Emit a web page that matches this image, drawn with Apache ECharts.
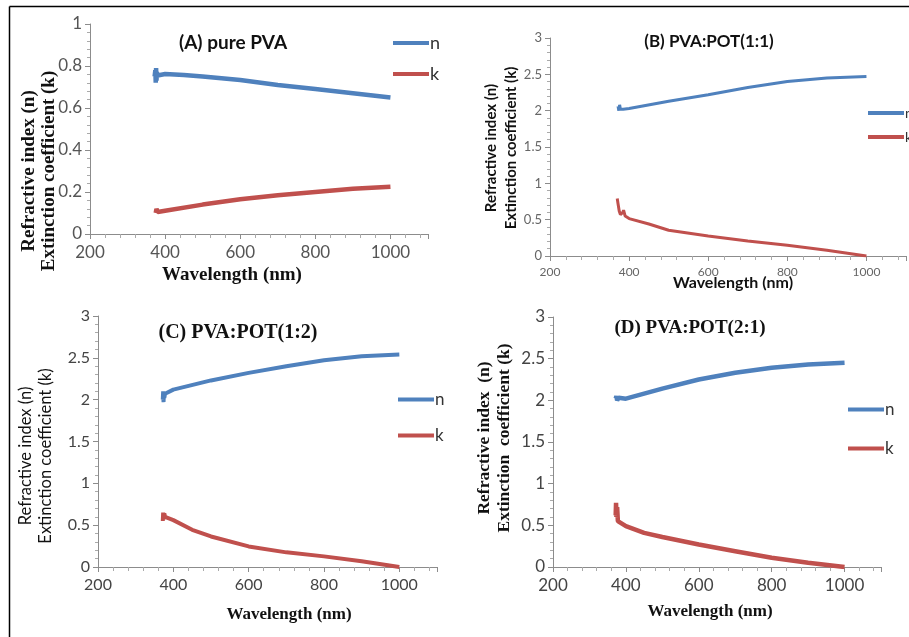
<!DOCTYPE html>
<html>
<head>
<meta charset="utf-8">
<script src="https://cdn.jsdelivr.net/npm/echarts@6/dist/echarts.min.js"></script>
<style>
  html, body { margin: 0; padding: 0; background: #fff; }
  #chart { width: 909px; height: 637px; }
</style>
</head>
<body>
<div id="chart"></div>
<script>
// 数据
var xTicks = [200, 400, 600, 800, 1000];

// (A) pure PVA
var aNx = [372, 374, 375, 376, 377, 378, 380, 385, 400, 450, 500, 600, 700, 800, 900, 1000];
var aN  = [0.75, 0.78, 0.72, 0.79, 0.73, 0.77, 0.755, 0.76, 0.762, 0.757, 0.75, 0.733, 0.71, 0.69, 0.67, 0.65];
var aKx = [375, 377, 380, 385, 400, 500, 600, 700, 800, 900, 1000];
var aK  = [0.10, 0.12, 0.105, 0.11, 0.111, 0.14, 0.165, 0.185, 0.20, 0.215, 0.225];

// (B) PVA:POT(1:1)
var bNx = [372, 374, 376, 378, 380, 385, 400, 500, 600, 700, 800, 900, 1000];
var bN  = [2.06, 2.0, 2.08, 2.02, 2.04, 2.02, 2.03, 2.13, 2.22, 2.32, 2.40, 2.45, 2.47];
var bKx = [370, 372, 375, 378, 380, 384, 386, 390, 400, 450, 500, 600, 700, 800, 900, 1000];
var bK  = [0.79, 0.72, 0.62, 0.57, 0.56, 0.60, 0.63, 0.55, 0.515, 0.44, 0.355, 0.276, 0.207, 0.147, 0.08, 0.0];

// (C) PVA:POT(1:2)
var cNx = [372, 373, 374, 375, 376, 378, 380, 400, 500, 600, 700, 800, 900, 1000];
var cN  = [2.0, 2.1, 1.97, 2.08, 2.02, 2.07, 2.09, 2.12, 2.23, 2.32, 2.40, 2.47, 2.52, 2.54];
var cKx = [372, 373, 374, 376, 378, 380, 400, 450, 500, 600, 700, 800, 900, 1000];
var cK  = [0.55, 0.65, 0.57, 0.64, 0.60, 0.62, 0.56, 0.445, 0.365, 0.246, 0.175, 0.127, 0.068, 0.0];

// (D) PVA:POT(2:1)
var dNx = [372, 374, 376, 380, 385, 400, 500, 600, 700, 800, 900, 1000];
var dN  = [2.02, 2.05, 2.0, 2.03, 2.01, 2.02, 2.14, 2.25, 2.33, 2.39, 2.43, 2.45];
var dKx = [372, 373, 374, 376, 378, 380, 400, 450, 500, 600, 700, 800, 900, 1000];
var dK  = [0.62, 0.77, 0.60, 0.72, 0.55, 0.57, 0.49, 0.41, 0.36, 0.27, 0.19, 0.11, 0.05, 0.0];

var blue = '#4f81bd', red = '#c0504d';
var sans = 'Lato', serif = 'Liberation Serif';

function pairs(xs, ys) {
  return xs.map(function (x, i) { return [x, ys[i]]; });
}

function xAxis(idx, size, color) {
  return {
    type: 'value', gridIndex: idx, min: 200, max: 1100, interval: 200,
    axisLine: { lineStyle: { color: '#8c8c8c' } },
    axisTick: { length: 5, lineStyle: { color: '#8c8c8c' } },
    minorTick: { show: true, splitNumber: 5, length: 4, lineStyle: { color: '#aaa' } },
    splitLine: { show: false },
    axisLabel: {
      fontFamily: sans, fontSize: size, color: color, margin: 10,
      formatter: function (v) { return xTicks.indexOf(v) >= 0 ? v : ''; }
    }
  };
}

function yAxis(idx, max, interval, size, color) {
  return {
    type: 'value', gridIndex: idx, min: 0, max: max, interval: interval,
    axisLine: { show: true, lineStyle: { color: '#8c8c8c' } },
    axisTick: { show: true, length: 5, lineStyle: { color: '#8c8c8c' } },
    minorTick: { show: true, splitNumber: 5, length: 3, lineStyle: { color: '#aaa' } },
    splitLine: { show: false },
    axisLabel: { fontFamily: sans, fontSize: size, color: color, margin: 8 }
  };
}

function line(name, idx, data, color, w) {
  return {
    name: name, type: 'line', xAxisIndex: idx, yAxisIndex: idx,
    data: data, showSymbol: false, smooth: false, color: color,
    lineStyle: { color: color, width: w }, animation: false
  };
}

function legend(left, top, gap, size) {
  return {
    orient: 'vertical', left: left, top: top, itemGap: gap, padding: 0,
    icon: 'rect', itemWidth: 36, itemHeight: 4,
    textStyle: { fontFamily: sans, fontSize: size, color: '#333', padding: [0, 0, 0, -4] },
    data: ['n', 'k'], selectedMode: false
  };
}

function txt(x, y, s, font, rot) {
  return {
    type: 'text', x: x, y: y, rotation: rot || 0,
    style: { text: s, font: font, fill: '#111', align: 'center', verticalAlign: 'middle', lineHeight: 20 }
  };
}

var myChart = echarts.init(document.getElementById('chart'));

option = {
  animation: false,
  grid: [
    { left: 90, top: 24, width: 338, height: 210 },
    { left: 550, top: 38, width: 367, height: 218 },
    { left: 98, top: 316, width: 339, height: 251 },
    { left: 553, top: 317, width: 328, height: 250 }
  ],
  xAxis: [
    xAxis(0, 17, '#555'),
    xAxis(1, 12, '#666'),
    xAxis(2, 16, '#444'),
    xAxis(3, 17, '#444')
  ],
  yAxis: [
    yAxis(0, 1, 0.2, 17, '#555'),
    yAxis(1, 3, 0.5, 13, '#666'),
    yAxis(2, 3, 0.5, 16, '#444'),
    yAxis(3, 3, 0.5, 17, '#444')
  ],
  legend: [
    legend(393, 34, 13, 18),
    legend(868, 106, 10, 14),
    legend(398, 391, 19, 17),
    legend(848, 401, 22, 17)
  ],
  series: [
    line('n', 0, pairs(aNx, aN), blue, 4.5),
    line('k', 0, pairs(aKx, aK), red, 4.5),
    line('n', 1, pairs(bNx, bN), blue, 3),
    line('k', 1, pairs(bKx, bK), red, 3),
    line('n', 2, pairs(cNx, cN), blue, 4),
    line('k', 2, pairs(cKx, cK), red, 4),
    line('n', 3, pairs(dNx, dN), blue, 4.5),
    line('k', 3, pairs(dKx, dK), red, 4.5)
  ],
  graphic: [
    // 外框
    { type: 'line', shape: { x1: 9.5, y1: 6.5, x2: 909, y2: 6.5 }, style: { stroke: '#000', lineWidth: 1.5 } },
    { type: 'line', shape: { x1: 9.5, y1: 6.5, x2: 9.5, y2: 637 }, style: { stroke: '#000', lineWidth: 1.5 } },
    // 标题
    txt(233, 43, '(A) pure PVA', 'bold 19px ' + sans),
    txt(709, 42, '(B) PVA:POT(1:1)', 'bold 17px ' + sans),
    txt(238, 333, '(C) PVA:POT(1:2)', 'bold 20px ' + serif),
    txt(690, 328, '(D) PVA:POT(2:1)', 'bold 19px ' + serif),
    // 坐标轴名称
    txt(39, 171, 'Refractive index (n)\nExtinction coefficient (k)', 'bold 19px ' + serif, Math.PI / 2),
    txt(501, 148, 'Refractive index (n)\nExtinction coefficient (k)', 'bold 15px ' + sans, Math.PI / 2),
    txt(36, 456, 'Refractive index (n)\nExtinction coefficient (k)', '16.5px ' + sans, Math.PI / 2),
    txt(494, 438, 'Refractive index  (n)\nExtinction  coefficient (k)', 'bold 17.5px ' + serif, Math.PI / 2),
    txt(232, 275, 'Wavelength (nm)', 'bold 19px ' + serif),
    txt(733, 283, 'Wavelength (nm)', 'bold 16px ' + sans),
    txt(289, 615, 'Wavelength (nm)', 'bold 17px ' + serif),
    txt(710, 612, 'Wavelength (nm)', 'bold 17px ' + serif)
  ]
};

myChart.setOption(option);
</script>
</body>
</html>
